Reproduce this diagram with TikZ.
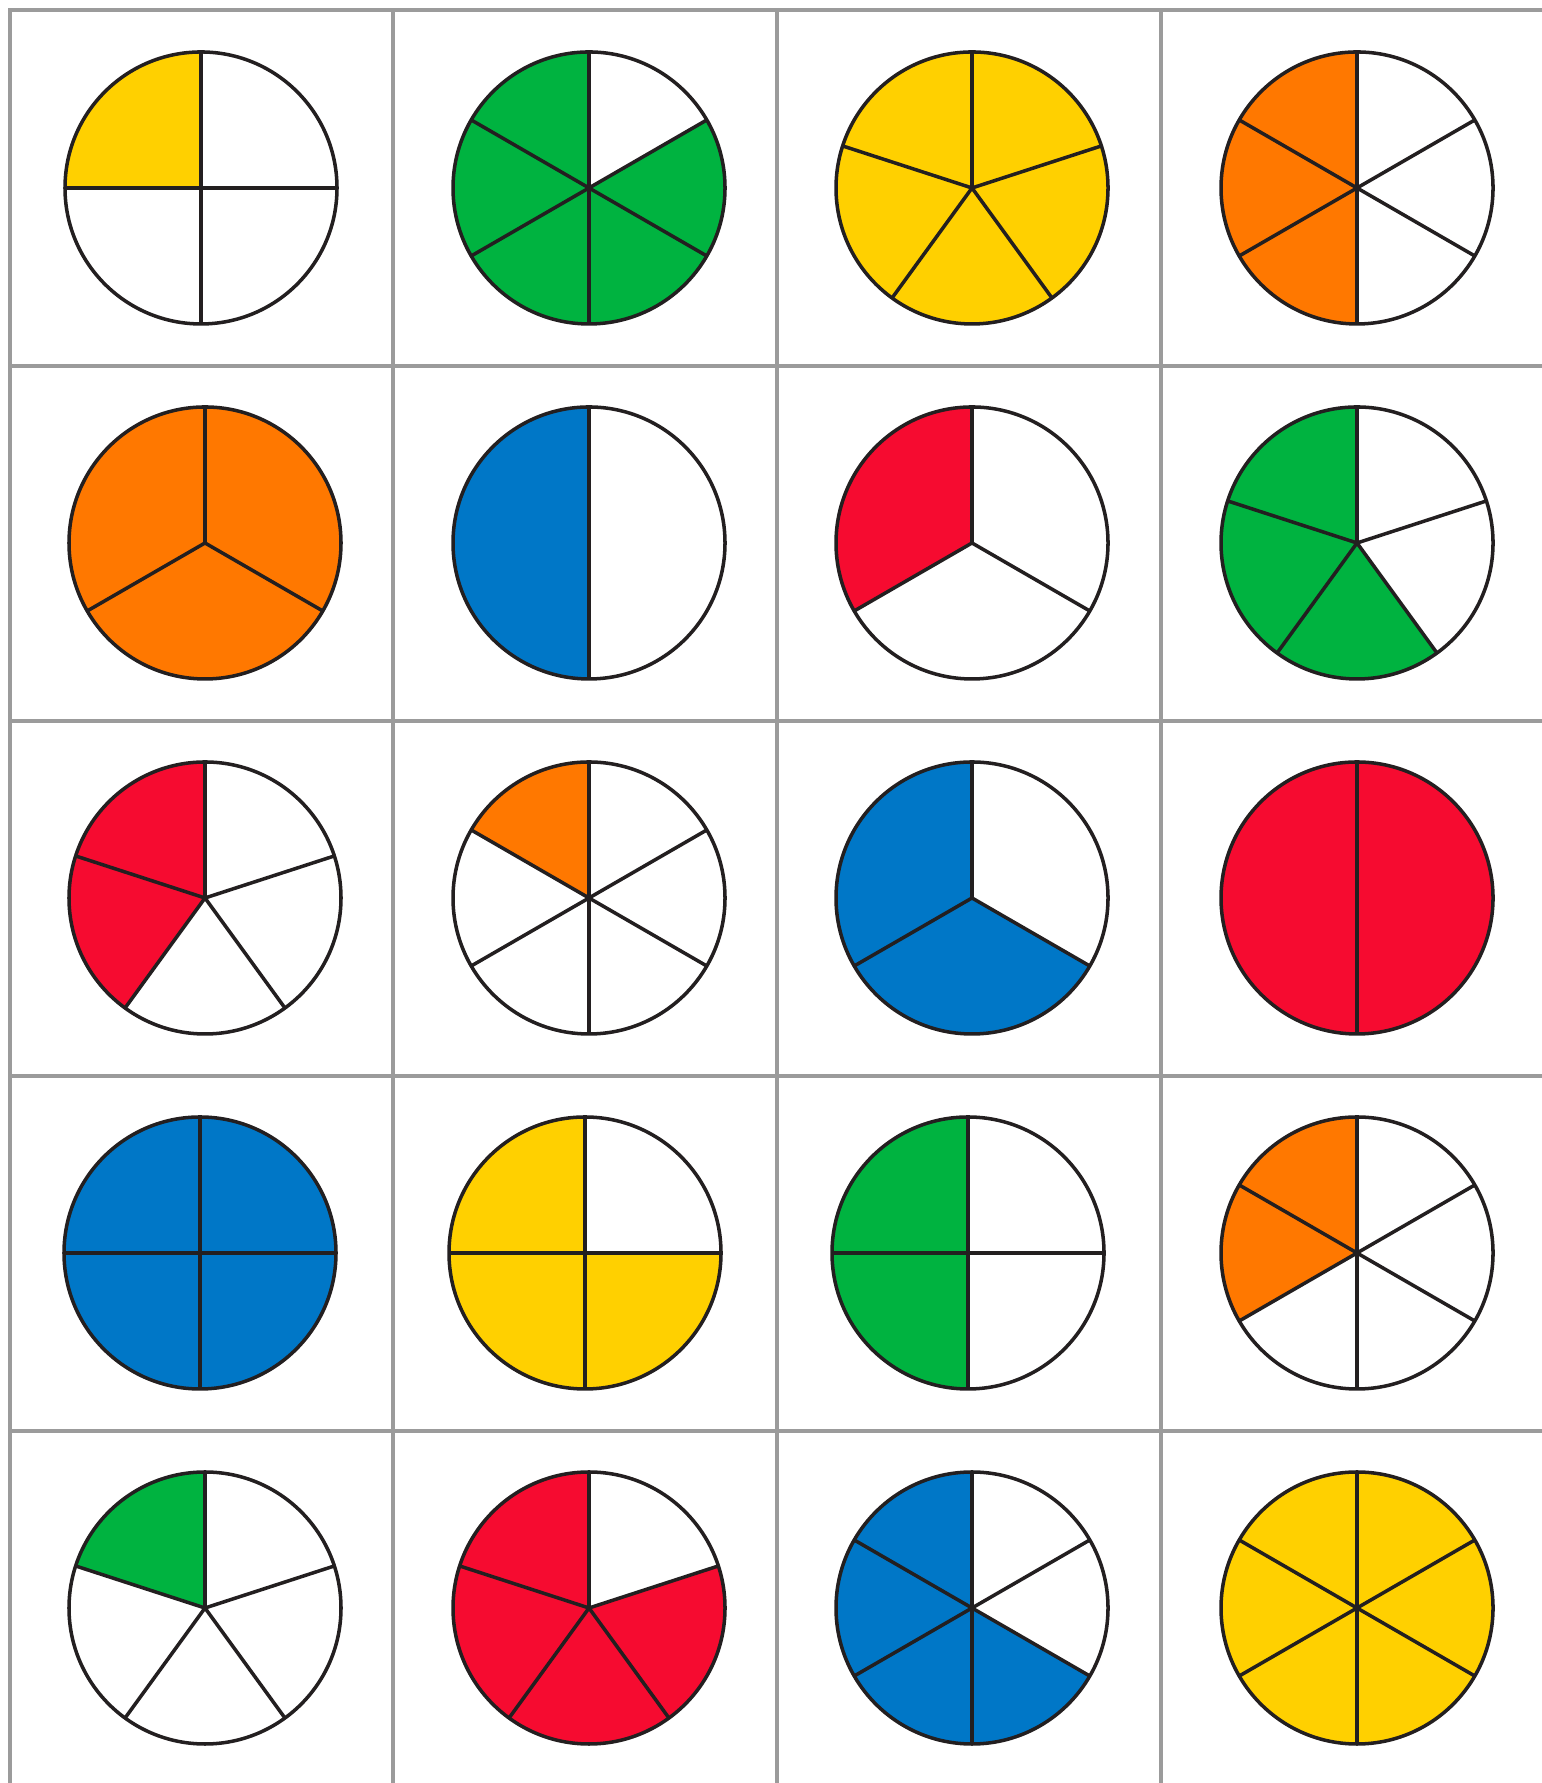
\documentclass[tikz,border=0pt]{standalone}
\usepackage{xcolor}
\usepackage{tikz}
\definecolor{gridgrey}{RGB}{155,155,155}
\definecolor{pieink}{RGB}{35,31,32}
\definecolor{pieyellow}{RGB}{255,208,0}
\definecolor{piegreen}{RGB}{0,179,64}
\definecolor{pieorange}{RGB}{255,120,0}
\definecolor{pieblue}{RGB}{0,119,199}
\definecolor{piered}{RGB}{246,11,48}
\newcommand{\pieR}{136}
% #1,#2 centre, #3 parts, #4 shaded parts, #5 colour
\newcommand{\fracpie}[5]{%
  \begin{scope}[shift={(#1,#2)}]
    \fill[white] (0,0) circle (\pieR);
    \fill[#5] (0,0) -- (90:\pieR) arc[start angle=90, delta angle={360*#4/#3}, radius=\pieR] -- cycle;
    \foreach \i in {1,...,#3} \draw[pieline] (0,0) -- ({90+360*\i/#3}:\pieR);
    \draw[pieline] (0,0) circle (\pieR);
  \end{scope}}

\begin{document}
\begin{tikzpicture}[x=0.01cm,y=0.01cm,
  gridline/.style={draw=gridgrey,line width=0.95pt,line cap=rect},
  pieline/.style={draw=pieink,line width=1pt,line join=round}]
\useasboundingbox (0,0) rectangle (1541,1783);
% grid
\foreach \gx in {10,393,777,1161} \draw[gridline] (\gx,1773) -- (\gx,-5);
\foreach \gy in {1773,1417,1062,707,352} \draw[gridline] (10,\gy) -- (1546,\gy);
% pies
\foreach \px/\py/\n/\k/\c in {
  201/1595/4/1/pieyellow, 589/1595/6/5/piegreen, 972/1595/5/5/pieyellow, 1357/1595/6/3/pieorange,
  205/1240/3/3/pieorange, 589/1240/2/1/pieblue,  972/1240/3/1/piered,    1357/1240/5/3/piegreen,
  205/885/5/2/piered,     589/885/6/1/pieorange, 972/885/3/2/pieblue,    1357/885/2/2/piered,
  200/530/4/4/pieblue,    585/530/4/3/pieyellow, 968/530/4/2/piegreen,   1357/530/6/2/pieorange,
  205/175/5/1/piegreen,   589/175/5/4/piered,    972/175/6/4/pieblue,    1357/175/6/6/pieyellow}
  \fracpie{\px}{\py}{\n}{\k}{\c};
\end{tikzpicture}
\end{document}
